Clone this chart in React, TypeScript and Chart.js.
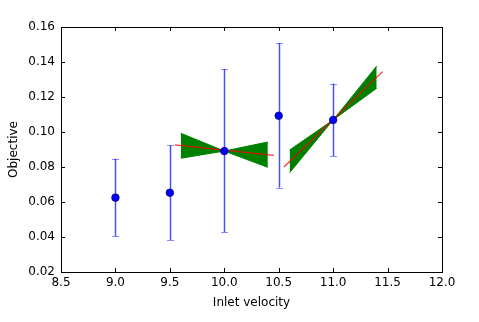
import React, { useEffect, useRef } from "react";
import { Chart, registerables } from "chart.js";

Chart.register(...registerables);

// Observations
const velocities = [9.0, 9.5, 10.0, 10.5, 11.0];
const objective = [0.0625, 0.0653, 0.0891, 0.1093, 0.1069];
const errLow = [0.0404, 0.0383, 0.0427, 0.0682, 0.0863];
const errHigh = [0.0847, 0.0924, 0.136, 0.1509, 0.1276];

// Gradient fans (edges at left / centre / right)
const fan1X = [9.6, 10.0, 10.4];
const fan1EdgeA = [0.0993, 0.0891, 0.0798];
const fan1EdgeB = [0.085, 0.0891, 0.0943];
const fan2X = [10.6, 11.0, 11.4];
const fan2EdgeA = [0.0897, 0.1069, 0.1377];
const fan2EdgeB = [0.0767, 0.1069, 0.125];

// Red fitted lines
const red1X = [9.547, 10.456];
const red1Y = [0.0926, 0.0867];
const red2X = [10.548, 11.454];
const red2Y = [0.08, 0.1345];

// Axes
const xTicks = [8.5, 9.0, 9.5, 10.0, 10.5, 11.0, 11.5, 12.0];
const yTicks = [0.02, 0.04, 0.06, 0.08, 0.1, 0.12, 0.14, 0.16];

const zip = (xs: number[], ys: number[]) => xs.map((x, i) => ({ x, y: ys[i] }));

const FONT = { family: "'DejaVu Sans', sans-serif", size: 12 };
const GREEN = "#008000";

export default function App() {
  const ref = useRef<HTMLCanvasElement | null>(null);
  useEffect(() => {
    if (!ref.current) return;
    const POINTS_INDEX = 6;
    const errorBars = {
      id: "errorBars",
      beforeDatasetDraw(chart: any, args: any) {
        if (args.index !== POINTS_INDEX) return;
        const { ctx, scales } = chart;
        const xs = scales.x, ys = scales.y;
        ctx.save();
        velocities.forEach((v, i) => {
          const px = Math.round(xs.getPixelForValue(v)) + 0.5;
          const top = ys.getPixelForValue(errHigh[i]);
          const bot = ys.getPixelForValue(errLow[i]);
          ctx.strokeStyle = "rgba(0,0,255,0.7)";
          ctx.lineWidth = 1.5;
          ctx.beginPath();
          ctx.moveTo(px, top);
          ctx.lineTo(px, bot);
          ctx.stroke();
          ctx.strokeStyle = "rgba(0,0,255,0.45)";
          ctx.lineWidth = 1;
          ctx.beginPath();
          ctx.moveTo(px - 3.5, Math.round(top) + 0.5);
          ctx.lineTo(px + 3.5, Math.round(top) + 0.5);
          ctx.moveTo(px - 3.5, Math.round(bot) + 0.5);
          ctx.lineTo(px + 3.5, Math.round(bot) + 0.5);
          ctx.stroke();
        });
        ctx.restore();
      },
    };
    const frame = {
      id: "frame",
      afterDraw(chart: any) {
        const { ctx, chartArea: a, scales } = chart;
        ctx.save();
        ctx.strokeStyle = "#000";
        ctx.lineWidth = 1;
        ctx.beginPath();
        xTicks.forEach((t) => {
          const px = Math.round(scales.x.getPixelForValue(t)) + 0.5;
          ctx.moveTo(px, a.bottom);
          ctx.lineTo(px, a.bottom - 4);
          ctx.moveTo(px, a.top);
          ctx.lineTo(px, a.top + 4);
        });
        yTicks.forEach((t) => {
          const py = Math.round(scales.y.getPixelForValue(t)) + 0.5;
          ctx.moveTo(a.left, py);
          ctx.lineTo(a.left + 4, py);
          ctx.moveTo(a.right, py);
          ctx.lineTo(a.right - 4, py);
        });
        ctx.stroke();
        ctx.strokeRect(Math.round(a.left) + 0.5, Math.round(a.top) + 0.5, Math.round(a.right - a.left), Math.round(a.bottom - a.top));
        ctx.restore();
      },
    };
    const fanEdge = (data: any, fill: any) => ({
      type: "line" as const,
      data,
      borderColor: GREEN,
      backgroundColor: GREEN,
      borderWidth: 1,
      pointRadius: 0,
      fill,
      showLine: true,
      order: 3,
    });
    const redLine = (data: any) => ({
      type: "line" as const,
      data,
      borderColor: "rgba(255,0,0,0.8)",
      borderWidth: 1.3,
      pointRadius: 0,
      fill: false,
      showLine: true,
      order: 2,
    });
    const chart = new Chart(ref.current, {
      type: "scatter",
      data: {
        datasets: [
          fanEdge(zip(fan1X, fan1EdgeA), "+1"),
          fanEdge(zip(fan1X, fan1EdgeB), false),
          fanEdge(zip(fan2X, fan2EdgeA), "+1"),
          fanEdge(zip(fan2X, fan2EdgeB), false),
          redLine(zip(red1X, red1Y)),
          redLine(zip(red2X, red2Y)),
          {
            type: "scatter" as const,
            data: zip(velocities, objective),
            backgroundColor: "#0000ff",
            borderColor: "#000060",
            borderWidth: 0.7,
            pointRadius: 3.8,
            showLine: false,
            order: 1,
          },
        ] as any,
      },
      options: {
        animation: false,
        responsive: false,
        layout: { padding: { left: 0, right: 37, top: 27, bottom: 0 } },
        plugins: { legend: { display: false }, tooltip: { enabled: false } },
        scales: {
          x: {
            type: "linear",
            min: 8.5,
            max: 12,
            afterFit: (s: any) => { s.height = 50; },
            afterBuildTicks: (s: any) => { s.ticks = xTicks.map((v) => ({ value: v })); },
            grid: { display: false, drawTicks: false },
            border: { display: false },
            ticks: { color: "#000", font: FONT, padding: 4, maxRotation: 0, callback: (v: any) => Number(v).toFixed(1) },
            title: { display: true, text: "Inlet velocity", color: "#000", font: FONT, padding: { top: 0, bottom: 12 } },
          },
          y: {
            type: "linear",
            min: 0.02,
            max: 0.16,
            afterFit: (s: any) => { s.width = 61; },
            afterBuildTicks: (s: any) => { s.ticks = yTicks.map((v) => ({ value: v })); },
            grid: { display: false, drawTicks: false },
            border: { display: false },
            ticks: { color: "#000", font: FONT, padding: 6, callback: (v: any) => Number(v).toFixed(2) },
            title: { display: true, text: "Objective", color: "#000", font: FONT, padding: { top: 7, bottom: 0 } },
          },
        },
      },
      plugins: [errorBars, frame],
    });
    return () => chart.destroy();
  }, []);
  return (
    <div style={{ position: "fixed", left: 0, top: 0, width: 479, height: 322, background: "#fff" }}>
      <canvas ref={ref} width={479} height={322} style={{ display: "block" }} />
    </div>
  );
}
